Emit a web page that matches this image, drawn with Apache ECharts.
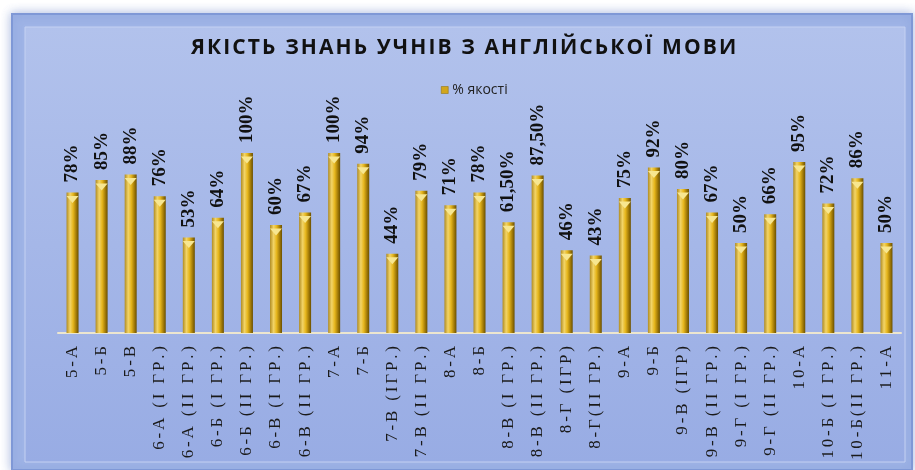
<!DOCTYPE html>
<html>
<head>
<meta charset="utf-8">
<script src="https://cdn.jsdelivr.net/npm/echarts@6/dist/echarts.min.js"></script>
<style>
  html, body { margin: 0; padding: 0; background: #fff; }
  #chart { width: 915px; height: 470px; }
</style>
</head>
<body>
<div id="chart"></div>
<script>
const classes = [
  '5-А', '5-Б', '5-В', '6-А (І ГР.)', '6-А (ІІ ГР.)', '6-Б (І ГР.)', '6-Б (ІІ ГР.)',
  '6-В (І ГР.)', '6-В (ІІ ГР.)', '7-А', '7-Б', '7-В (ІГР.)', '7-В (ІІ ГР.)', '8-А',
  '8-Б', '8-В (І ГР.)', '8-В (ІІ ГР.)', '8-Г (ІГР)', '8-Г(ІІ ГР.)', '9-А', '9-Б',
  '9-В (ІГР)', '9-В (ІІ ГР.)', '9-Г (І ГР.)', '9-Г (ІІ ГР.)', '10-А', '10-Б (І ГР.)',
  '10-Б(ІІ ГР.)', '11-А'
];
const quality = [
  78, 85, 88, 76, 53, 64, 100, 60, 67, 100, 94, 44, 79, 71, 78, 61.5, 87.5,
  46, 43, 75, 92, 80, 67, 50, 66, 95, 72, 86, 50
];

const fmtPct = (v) => (Number.isInteger(v) ? v : v.toFixed(2).replace('.', ',')) + '%';
// no letterSpacing in zrender, so pad glyphs with narrow spaces
const spaced = (s, sp) => s.split('').join(sp);

const myChart = echarts.init(document.getElementById('chart'));
const gold = new echarts.graphic.LinearGradient(0, 0, 1, 0, [
  { offset: 0, color: '#b08c22' },
  { offset: 0.3, color: '#f2d468' },
  { offset: 0.55, color: '#e6b61c' },
  { offset: 0.8, color: '#a47c08' },
  { offset: 1, color: '#6a5000' },
]);

const option = {
  animation: false,
  backgroundColor: '#ffffff',
  graphic: [
    {
      type: 'rect',
      shape: { x: 12, y: 14, width: 900, height: 456 },
      style: {
        fill: '#9fb4e6',
        stroke: '#7f98d6',
        lineWidth: 2,
        shadowBlur: 10,
        shadowColor: 'rgba(80,110,190,0.45)',
      },
      z: -10,
    },
    {
      type: 'rect',
      shape: { x: 25, y: 27, width: 880, height: 435 },
      style: {
        fill: new echarts.graphic.LinearGradient(0, 0, 0, 1, [
          { offset: 0, color: '#b2c2ec' },
          { offset: 1, color: '#98ace4' },
        ]),
        stroke: '#c4d1f2',
        lineWidth: 1,
      },
      z: -9,
    },
  ],
  title: {
    text: spaced('ЯКІСТЬ ЗНАНЬ УЧНІВ З АНГЛІЙСЬКОЇ МОВИ', '\u200A'),
    left: 186,
    top: 33,
    textStyle: {
      fontFamily: 'Open Sans',
      fontSize: 21,
      fontWeight: 'bold',
      color: '#111',
    },
  },
  legend: {
    data: ['% якості'],
    top: 78,
    left: 436,
    itemWidth: 7,
    itemHeight: 7,
    itemGap: 4,
    icon: 'rect',
    itemStyle: { color: '#d2a61c', borderColor: '#8a6a00', borderWidth: 0.5 },
    textStyle: { fontFamily: 'Open Sans', fontSize: 14, color: '#222', padding: [0, 0, 0, -1] },
  },
  grid: { left: 58, right: 14, top: 153, bottom: 137, containLabel: false },
  xAxis: {
    type: 'category',
    data: classes,
    axisLine: { lineStyle: { color: '#ece6cf', width: 2 } },
    axisTick: { show: false },
    axisLabel: {
      rotate: 90,
      interval: 0,
      margin: 13,
      fontFamily: 'Liberation Serif',
      fontSize: 17,
      color: '#1a1a1a',
      formatter: (v) => spaced(v, '\u2006'),
    },
  },
  yAxis: {
    type: 'value',
    min: 0,
    max: 100,
    show: false,
    splitLine: { show: false },
  },
  series: [
    {
      name: '% якості',
      type: 'bar',
      data: quality,
      barWidth: 12,
      itemStyle: { color: gold },
      label: {
        show: true,
        position: 'top',
        rotate: 90,
        align: 'left',
        verticalAlign: 'middle',
        distance: 10,
        formatter: (p) => fmtPct(p.value),
        fontFamily: 'Liberation Serif',
        fontWeight: 'bold',
        fontSize: 19,
        color: '#111',
      },
    },
    {
      // bevelled cap on top of each bar
      type: 'pictorialBar',
      data: quality,
      symbol: 'triangle',
      symbolRotate: 180,
      symbolSize: [12, 7],
      symbolPosition: 'end',
      symbolOffset: [0, '50%'],
      itemStyle: { color: '#f7e690' },
      z: 3,
      silent: true,
      tooltip: { show: false },
    },
  ],
};
myChart.setOption(option);
window.addEventListener('resize', () => {
  myChart.resize();
});
</script>
</body>
</html>
